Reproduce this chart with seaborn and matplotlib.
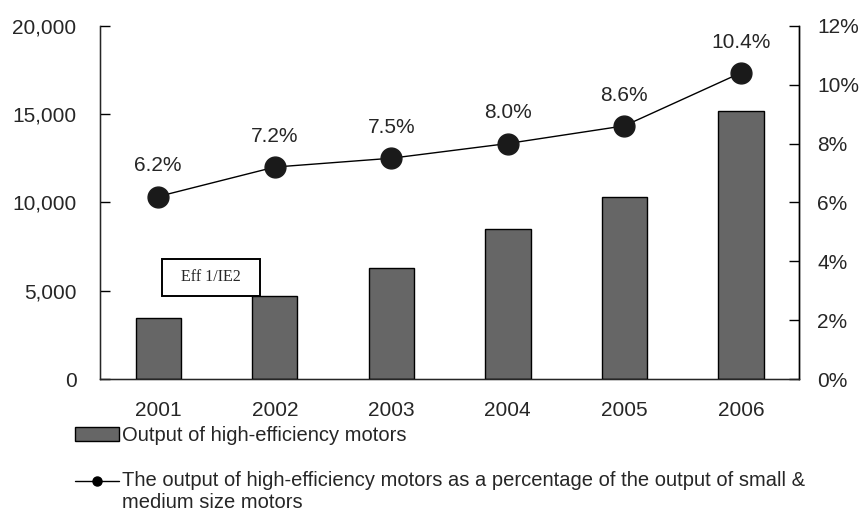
import numpy as np
import pandas as pd
import matplotlib.pyplot as plt
import seaborn as sns
from matplotlib.ticker import FuncFormatter, FixedLocator
from matplotlib.lines import Line2D
from matplotlib.patches import Patch, Rectangle
from matplotlib.legend_handler import HandlerLine2D

years = ['2001', '2002', '2003', '2004', '2005', '2006']
output = [3450, 4700, 6300, 8500, 10300, 15200]
share_pct = [6.2, 7.2, 7.5, 8.0, 8.6, 10.4]
share_labels = ['6.2%', '7.2%', '7.5%', '8.0%', '8.6%', '10.4%']

bar_label = 'Output of high-efficiency motors'
line_label = ('The output of high-efficiency motors as a percentage of the output of small &\n'
              'medium size motors')


class TopLineHandler(HandlerLine2D):
    """Puts the legend line next to the first line of a wrapped label."""
    def __init__(self, shift=8, **kw):
        super().__init__(**kw)
        self.shift = shift

    def create_artists(self, *args, **kw):
        artists = super().create_artists(*args, **kw)
        for a in artists:
            a.set_ydata(np.asarray(a.get_ydata()) + self.shift)
        return artists


sns.set_style('white')
plt.rcParams['font.family'] = ['Liberation Sans', 'DejaVu Sans']

df = pd.DataFrame({'year': years, 'output': output})

fig = plt.figure(figsize=(8.62, 5.15), dpi=100)
ax = fig.add_axes([0.116, 0.264, 0.811, 0.686])

sns.barplot(data=df, x='year', y='output', color='#666666', edgecolor='black',
            linewidth=1, width=0.39, saturation=1, ax=ax)
ax.set_xlim(-0.5, len(years) - 0.5)
ax.set_ylim(0, 20000)
ax.set_yticks(np.arange(0, 20001, 5000))
ax.yaxis.set_major_formatter(FuncFormatter(lambda v, p: f'{int(v):,}'))
ax.set_xlabel('')
ax.set_ylabel('')

# ticks between categories, pointing in
ax.xaxis.set_minor_locator(FixedLocator(np.arange(-0.5, len(years), 1.0)))
ax.tick_params(axis='x', which='major', length=0, pad=16, labelsize=15)
ax.tick_params(axis='x', which='minor', direction='in', length=7, width=1, color='black')
ax.tick_params(axis='y', direction='in', length=7, width=1, color='black', pad=17, labelsize=15)

for s in ['left', 'bottom', 'right']:
    ax.spines[s].set_color('black')
    ax.spines[s].set_linewidth(1)
ax.spines['top'].set_visible(False)

ax2 = ax.twinx()
xpos = np.arange(len(years))
ax2.plot(xpos, share_pct, color='black', linewidth=1, marker='o', markersize=15,
         markerfacecolor='#1a1a1a', markeredgecolor='#1a1a1a')
ax2.set_ylim(0, 12)
ax2.set_yticks(np.arange(0, 13, 2))
ax2.yaxis.set_major_formatter(FuncFormatter(lambda v, p: f'{int(v)}%'))
ax2.tick_params(axis='y', direction='in', length=7, width=1, color='black', pad=13, labelsize=15)
ax2.spines['top'].set_visible(False)
ax2.spines['right'].set_color('black')
ax2.spines['right'].set_linewidth(1)

for x, v, lab in zip(xpos, share_pct, share_labels):
    ax2.annotate(lab, (x, v), xytext=(0, 22), textcoords='offset points',
                 ha='center', va='center', fontsize=15)

# "Eff 1/IE2" callout box
ax.add_patch(Rectangle((0.0886, 0.235), 0.14, 0.105, transform=ax.transAxes,
                       facecolor='white', edgecolor='black', linewidth=1.4, zorder=5))
ax.text(0.1586, 0.2875, 'Eff 1/IE2', transform=ax.transAxes, ha='center', va='center',
        fontsize=11.5, family=['Liberation Serif', 'DejaVu Serif'], zorder=6)

bar_handle = Patch(facecolor='#666666', edgecolor='black', linewidth=1)
line_handle = Line2D([], [], color='black', linewidth=1, marker='o', markersize=6.5)
fig.legend([bar_handle, line_handle], [bar_label, line_label], loc='upper left',
           bbox_to_anchor=(0.087, 0.173), frameon=False, prop={'size': 14.5},
           handlelength=2.2, handletextpad=0.15, labelspacing=1.3, borderaxespad=0,
           borderpad=0, handler_map={line_handle: TopLineHandler(shift=8)})

fig.savefig('out.png', dpi=100)
